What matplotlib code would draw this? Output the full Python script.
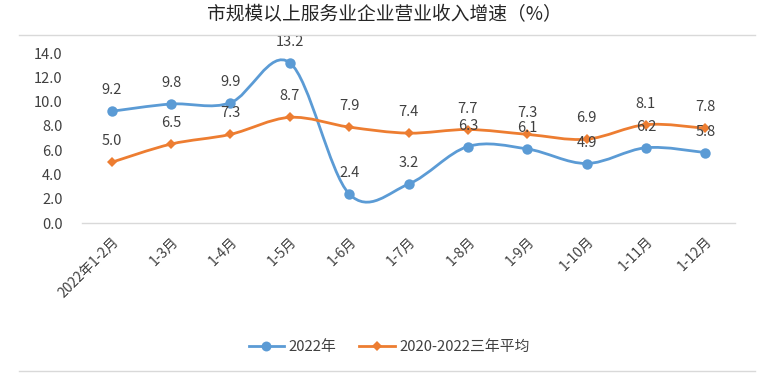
import numpy as np
import matplotlib
matplotlib.use("Agg")
import matplotlib.pyplot as plt
from matplotlib.path import Path
from matplotlib.patches import PathPatch
from matplotlib.lines import Line2D

plt.rcParams['font.family'] = ['Noto Sans CJK SC', 'DejaVu Sans']

months = ['2022年1-2月', '1-3月', '1-4月', '1-5月', '1-6月', '1-7月',
          '1-8月', '1-9月', '1-10月', '1-11月', '1-12月']
growth_2022 = [9.2, 9.8, 9.9, 13.2, 2.4, 3.2, 6.3, 6.1, 4.9, 6.2, 5.8]
growth_avg = [5.0, 6.5, 7.3, 8.7, 7.9, 7.4, 7.7, 7.3, 6.9, 8.1, 7.8]
yticks = [0, 2, 4, 6, 8, 10, 12, 14]

BLUE = '#5B9BD5'
ORANGE = '#ED7D31'
TEXT = '#404040'


def smooth_path(xs, ys):
    """Excel-like smoothed line: Catmull-Rom segments as cubic Beziers"""
    pts = np.column_stack([xs, ys]).astype(float)
    n = len(pts)
    verts = [pts[0]]
    codes = [Path.MOVETO]
    for i in range(n - 1):
        p0 = pts[max(i - 1, 0)]
        p1 = pts[i]
        p2 = pts[i + 1]
        p3 = pts[min(i + 2, n - 1)]
        c1 = p1 + (p2 - p0) / 6
        c2 = p2 - (p3 - p1) / 6
        verts += [c1, c2, p2]
        codes += [Path.CURVE4] * 3
    return Path(verts, codes)


fig = plt.figure(figsize=(7.78, 3.80), dpi=100)
ax = fig.add_axes([82 / 778, 1 - 223 / 380, 653 / 778, 170 / 380])

x = np.arange(len(months))
series = [(growth_2022, BLUE, 'o', 7.5, '2022年'),
          (growth_avg, ORANGE, 'D', 5.5, '2020-2022三年平均')]
for vals, color, marker, ms, label in series:
    patch = PathPatch(smooth_path(x, vals), facecolor='none', edgecolor=color,
                      lw=2.0, capstyle='round', zorder=2)
    ax.add_patch(patch)
    ax.plot(x, vals, ls='none', marker=marker, ms=ms, color=color,
            markeredgewidth=0, zorder=3)
    for xi, v in zip(x, vals):
        ax.annotate(f'{v:.1f}', (xi, v), textcoords='offset pixels',
                    xytext=(0, 21), ha='center', va='center',
                    fontsize=10.5, color=TEXT, zorder=4)

ax.set_xlim(-0.5, len(months) - 0.5)
ax.set_ylim(0, 14)
ax.set_yticks(yticks)
ax.set_yticklabels([f'{t:.1f}' for t in yticks], fontsize=10.5, color=TEXT)
ax.set_xticks(x)
ax.set_xticklabels(months, rotation=45, ha='right', rotation_mode='anchor',
                   fontsize=10, color=TEXT)
ax.tick_params(axis='both', length=0)
ax.tick_params(axis='x', pad=8)
ax.tick_params(axis='y', pad=14)
for side in ['top', 'right', 'left']:
    ax.spines[side].set_visible(False)
ax.spines['bottom'].set_color('#D9D9D9')
ax.spines['bottom'].set_linewidth(1)

fig.text(0.494, 1 - 15 / 380, '市规模以上服务业企业营业收入增速（%）',
         ha='center', va='center', fontsize=13.5, fontweight='medium',
         color='#262626')

# frame lines above and below the chart
for yy in (35, 371):
    fig.add_artist(Line2D([19 / 778, 755 / 778], [1 - yy / 380, 1 - yy / 380],
                          color='#D9D9D9', lw=1))

handles = [Line2D([], [], color=c, marker=m, ms=ms * 0.95, lw=2,
                  markeredgewidth=0)
           for _, c, m, ms, _ in series]
fig.legend(handles, [s[4] for s in series], loc='center',
           bbox_to_anchor=(0.5, 1 - 347 / 380), ncol=2, frameon=False,
           fontsize=10.7, labelcolor=TEXT, handlelength=2.4,
           columnspacing=1.5, handletextpad=0.3)

fig.savefig('out.png', dpi=100)
